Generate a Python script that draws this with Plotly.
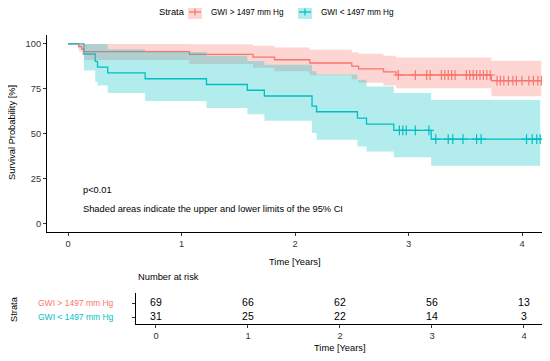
import numpy as np
import plotly.graph_objects as go

# page body has an 8px default margin; build the figure to fit inside it
PAGE_W, PAGE_H, OFF = 550, 361, 8
W, H = PAGE_W - OFF, PAGE_H - OFF
RED = "#F8766D"
TEAL = "#00BFC4"
RED_FILL = "rgba(248,118,109,0.3)"
TEAL_FILL = "rgba(0,191,196,0.3)"
FONT = "Liberation Sans, Arial, sans-serif"

# ---- data: GWI > 1497 mm Hg ----
red_time = [0, 0.094, 0.12, 0.14, 1.07, 1.63, 1.82, 2.13, 2.50, 2.56, 2.78, 2.89, 3.73]
red_surv = [100, 98.6, 97.1, 95.7, 94.2, 92.7, 91.2, 89.4, 87.7, 86.1, 84.4, 82.7, 79.6]
red_upper = [100, 100, 100, 100, 99.9, 99.0, 98.0, 96.8, 95.4, 94.5, 93.5, 92.5, 90.7]
red_lower = [100, 95.8, 93.7, 91.0, 88.8, 86.8, 84.8, 82.5, 80.3, 78.4, 76.8, 75.3, 70.8]
red_end = 4.17
red_censor = [2.91, 3.06, 3.16, 3.19, 3.29, 3.32, 3.35, 3.38, 3.41, 3.51, 3.54, 3.57,
              3.60, 3.63, 3.66, 3.69, 3.72, 3.78, 3.81, 3.84, 3.88, 3.92, 3.95, 4.00,
              4.06, 4.10, 4.14, 4.17]

# ---- data: GWI < 1497 mm Hg ----
teal_time = [0, 0.14, 0.24, 0.26, 0.35, 0.68, 1.22, 1.58, 1.73, 2.15, 2.19, 2.55, 2.63, 2.87, 3.20]
teal_surv = [100, 94.4, 90.3, 87.1, 83.9, 80.6, 77.4, 74.2, 71.0, 65.3, 62.2, 58.6, 55.3, 51.8, 47.0]
teal_upper = [100, 100, 100, 100, 97.0, 95.5, 93.4, 90.5, 88.4, 84.8, 83.0, 80.0, 76.3, 72.7, 68.8]
teal_lower = [100, 85.2, 79.0, 76.8, 72.6, 68.2, 64.3, 60.8, 57.2, 50.3, 46.6, 42.9, 40.1, 36.9, 32.1]
teal_end = 4.16
teal_censor = [2.92, 2.95, 2.98, 3.06, 3.18, 3.24, 3.35, 3.39, 3.48, 3.60, 3.64,
               4.04, 4.09, 4.13, 4.16]

# ---- risk table ----
risk_time = [0, 1, 2, 3, 4]
risk_red = [69, 66, 62, 56, 13]
risk_teal = [31, 25, 22, 14, 3]
strata_labels = ["GWI > 1497 mm Hg", "GWI < 1497 mm Hg"]
y_ticks = [0, 25, 50, 75, 100]
x_ticks = [0, 1, 2, 3, 4]


def px(x):
    return (x - OFF) / W


def py(y):
    return 1 - (y - OFF) / H


def ext(t, v, end):
    return list(t) + [end], list(v) + [v[-1]]


def step_at(t, v, q):
    idx = np.searchsorted(np.array(t), np.array(q), side="right") - 1
    return [v[i] for i in idx]


fig = go.Figure()

# lines
for t, s, end, col in [(red_time, red_surv, red_end, RED), (teal_time, teal_surv, teal_end, TEAL)]:
    xx, yy = ext(t, s, end)
    fig.add_trace(go.Scatter(x=xx, y=yy, mode="lines", line=dict(color=col, width=1.3, shape="hv"),
                             xaxis="x", yaxis="y", hoverinfo="skip"))
# censor marks
for t, s, c, col in [(red_time, red_surv, red_censor, RED), (teal_time, teal_surv, teal_censor, TEAL)]:
    fig.add_trace(go.Scatter(x=c, y=step_at(t, s, c), mode="markers",
                             marker=dict(symbol="cross-thin", size=7, line=dict(color=col, width=1.2)),
                             xaxis="x", yaxis="y", hoverinfo="skip"))
# ribbons
for t, up, lo, end, fc in [(red_time, red_upper, red_lower, red_end, RED_FILL),
                           (teal_time, teal_upper, teal_lower, teal_end, TEAL_FILL)]:
    xu, yu = ext(t, up, end)
    xl, yl = ext(t, lo, end)
    fig.add_trace(go.Scatter(x=xu, y=yu, mode="lines", line=dict(width=0, shape="hv"),
                             xaxis="x", yaxis="y", hoverinfo="skip"))
    fig.add_trace(go.Scatter(x=xl, y=yl, mode="lines", line=dict(width=0, shape="hv"),
                             fill="tonexty", fillcolor=fc, xaxis="x", yaxis="y", hoverinfo="skip"))

# risk table numbers
fig.add_trace(go.Scatter(x=risk_time, y=[2] * len(risk_time), mode="text",
                         text=[str(v) for v in risk_red], textfont=dict(size=10.5, color="black", family=FONT),
                         xaxis="x2", yaxis="y2", hoverinfo="skip"))
fig.add_trace(go.Scatter(x=risk_time, y=[1] * len(risk_time), mode="text",
                         text=[str(v) for v in risk_teal], textfont=dict(size=10.5, color="black", family=FONT),
                         xaxis="x2", yaxis="y2", hoverinfo="skip"))

axis_common = dict(showgrid=False, zeroline=False, showline=True, linecolor="black", linewidth=1,
                   ticks="outside", ticklen=3, tickcolor="#333", tickwidth=1,
                   tickfont=dict(size=9.3, color="#333", family=FONT), fixedrange=True)

fig.update_layout(
    width=W, height=H, margin=dict(l=0, r=0, t=0, b=0),
    paper_bgcolor="white", plot_bgcolor="white", showlegend=False,
    font=dict(family=FONT, color="black"),
    xaxis=dict(domain=[px(47), px(543)], range=[-0.185, 4.185], tickvals=x_ticks, anchor="y", **axis_common),
    yaxis=dict(domain=[py(232.3), py(35)], range=[-5, 105], tickvals=y_ticks, anchor="x", **axis_common),
    xaxis2=dict(domain=[px(136), px(543)], range=[-0.217, 4.207], tickvals=x_ticks, anchor="y2", **axis_common),
    yaxis2=dict(domain=[py(324), py(293)], range=[0.5, 2.714], tickvals=[1, 2], showticklabels=False,
                anchor="x2", **axis_common),
)

ann = []


def add_text(text, x, y, size=9.3, xanchor="center", angle=0, color="black", xref="paper", yref="paper"):
    ann.append(dict(text=text, x=x, y=y, xref=xref, yref=yref, xanchor=xanchor, yanchor="middle",
                    showarrow=False, textangle=angle, font=dict(size=size, color=color, family=FONT)))


add_text("Survival Probability [%]", px(12), py(133), angle=-90)
add_text("Time [Years]", px(295), py(262))
add_text("p<0.01", px(81), py(189.5), xanchor="left")
add_text("Shaded areas indicate the upper and lower limits of the 95% CI", px(81), py(209), xanchor="left")
add_text("Number at risk", px(136), py(277), xanchor="left")
add_text("Strata", px(14), py(309), angle=-90)
add_text("Time [Years]", px(340), py(348))
add_text(strata_labels[0], px(116), 2, size=8.5, xanchor="right", color=RED, yref="y2")
add_text(strata_labels[1], px(116), 1, size=8.5, xanchor="right", color=TEAL, yref="y2")

# legend (manual)
add_text("Strata", px(157), py(12.5), size=9.3, xanchor="left")
shapes = []
for (x0, col, fc, lab) in [(188, RED, RED_FILL, strata_labels[0]), (298, TEAL, TEAL_FILL, strata_labels[1])]:
    shapes.append(dict(type="rect", xref="paper", yref="paper", x0=px(x0), x1=px(x0 + 14),
                       y0=py(19), y1=py(5), fillcolor=fc, line=dict(width=0)))
    shapes.append(dict(type="line", xref="paper", yref="paper", x0=px(x0 + 1), x1=px(x0 + 13),
                       y0=py(12), y1=py(12), line=dict(color=col, width=1.3)))
    shapes.append(dict(type="line", xref="paper", yref="paper", x0=px(x0 + 7), x1=px(x0 + 7),
                       y0=py(8.5), y1=py(15.5), line=dict(color=col, width=1.2)))
    add_text(lab, px(x0 + 21), py(12.5), size=8.2, xanchor="left")

fig.update_layout(annotations=ann, shapes=shapes)
fig.write_html("out.html")
